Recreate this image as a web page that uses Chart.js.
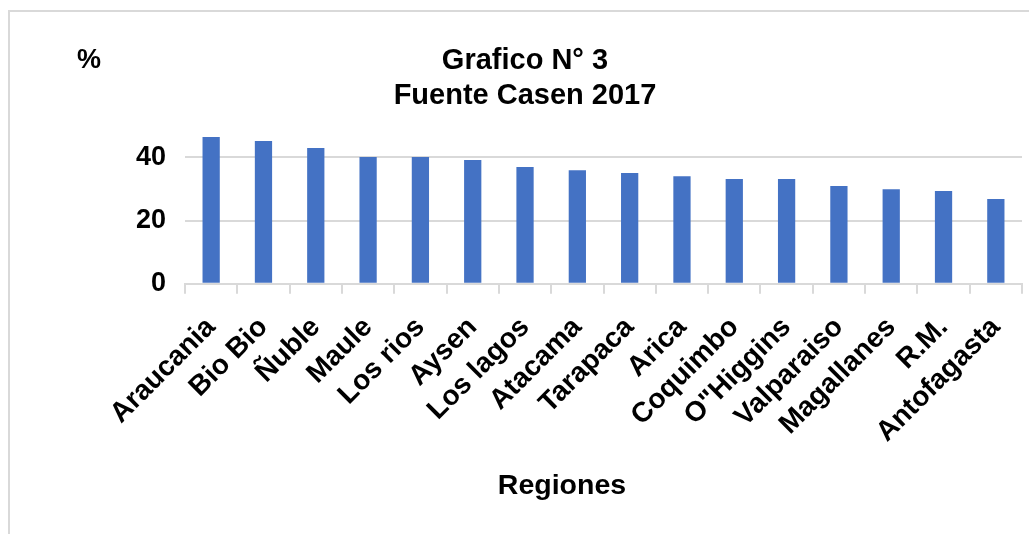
<!DOCTYPE html>
<html>
<head>
<meta charset="utf-8">
<script src="https://cdn.jsdelivr.net/npm/chart.js"></script>
<style>
  html, body { margin: 0; padding: 0; background: #fff; overflow: hidden; }
  .frame { position: absolute; left: 8px; top: 10px; width: 1040px; height: 540px;
           border-left: 2px solid #d9d9d9; border-top: 2px solid #d9d9d9; }
  #grafico { position: absolute; left: 0; top: 0; }
</style>
</head>
<body>
<div class="frame"></div>
<canvas id="grafico" width="1029" height="534"></canvas>
<script>
// regiones y porcentajes (Casen 2017)
var regiones = ["Araucania", "Bio Bio", "Ñuble", "Maule", "Los rios", "Aysen", "Los lagos", "Atacama",
  "Tarapaca", "Arica", "Coquimbo", "O\"Higgins", "Valparaiso", "Magallanes", "R.M.", "Antofagasta"];
var porcentajes = [46.4, 45.1, 42.9, 40.1, 40.1, 39.1, 36.9, 35.9, 35.0, 34.0, 33.1, 33.1, 30.9, 29.9, 29.3, 26.8];
var ticksY = [0, 20, 40];

var fuente = "'Liberation Sans', Arial, sans-serif";
var gris = '#d9d9d9';

// el "%" arriba a la izquierda y el titulo del eje x
var textosExtra = {
  id: 'textosExtra',
  afterDraw: function(chart){
    var ctx = chart.ctx;
    ctx.save();
    ctx.fillStyle = '#000';
    ctx.textBaseline = 'alphabetic';
    ctx.font = 'bold 27px ' + fuente;
    ctx.textAlign = 'left';
    ctx.fillText('%', 77, 68);
    ctx.font = 'bold 28.5px ' + fuente;
    ctx.textAlign = 'center';
    ctx.fillText('Regiones', 562, 494);
    ctx.restore();
  }
};

Chart.defaults.font.family = fuente;
Chart.defaults.color = '#000';

var grafico = new Chart(document.getElementById('grafico'), {
  type: 'bar',
  data: {
    labels: regiones,
    datasets: [{
      label: 'Porcentaje',
      data: porcentajes,
      backgroundColor: '#4472C4',
      barPercentage: 0.33,
      categoryPercentage: 1
    }]
  },
  options: {
    responsive: false,
    animation: false,
    layout: { padding: { left: 28, right: 7, top: 0, bottom: 68 } },
    plugins: {
      legend: { display: false },
      tooltip: { enabled: false },
      title: {
        display: true,
        text: ['Grafico N° 3', 'Fuente Casen 2017'],
        font: { size: 29, weight: 'bold', lineHeight: 1.2 },
        color: '#000',
        padding: { top: 44, bottom: 12 }
      }
    },
    scales: {
      x: {
        afterFit: function(scale){ scale.paddingRight = 0; scale.paddingLeft = 0; },
        grid: { display: true, drawOnChartArea: false, drawTicks: true, tickLength: 10,
                color: gris, lineWidth: 2, offset: true },
        border: { display: true, color: gris, width: 2 },
        ticks: { minRotation: 45, maxRotation: 45, padding: 17, autoSkip: false,
                 font: { size: 28, weight: 'bold' }, color: '#000' }
      },
      y: {
        min: 0,
        max: 50,
        afterFit: function(scale){ scale.width = 157; },
        grid: { color: gris, lineWidth: 2, drawTicks: false },
        border: { display: false },
        ticks: {
          stepSize: 10,
          padding: 19,
          font: { size: 27, weight: 'bold' },
          color: '#000',
          callback: function(v){ return ticksY.indexOf(v) >= 0 ? v : ''; }
        }
      }
    }
  },
  plugins: [textosExtra]
});
</script>
</body>
</html>
